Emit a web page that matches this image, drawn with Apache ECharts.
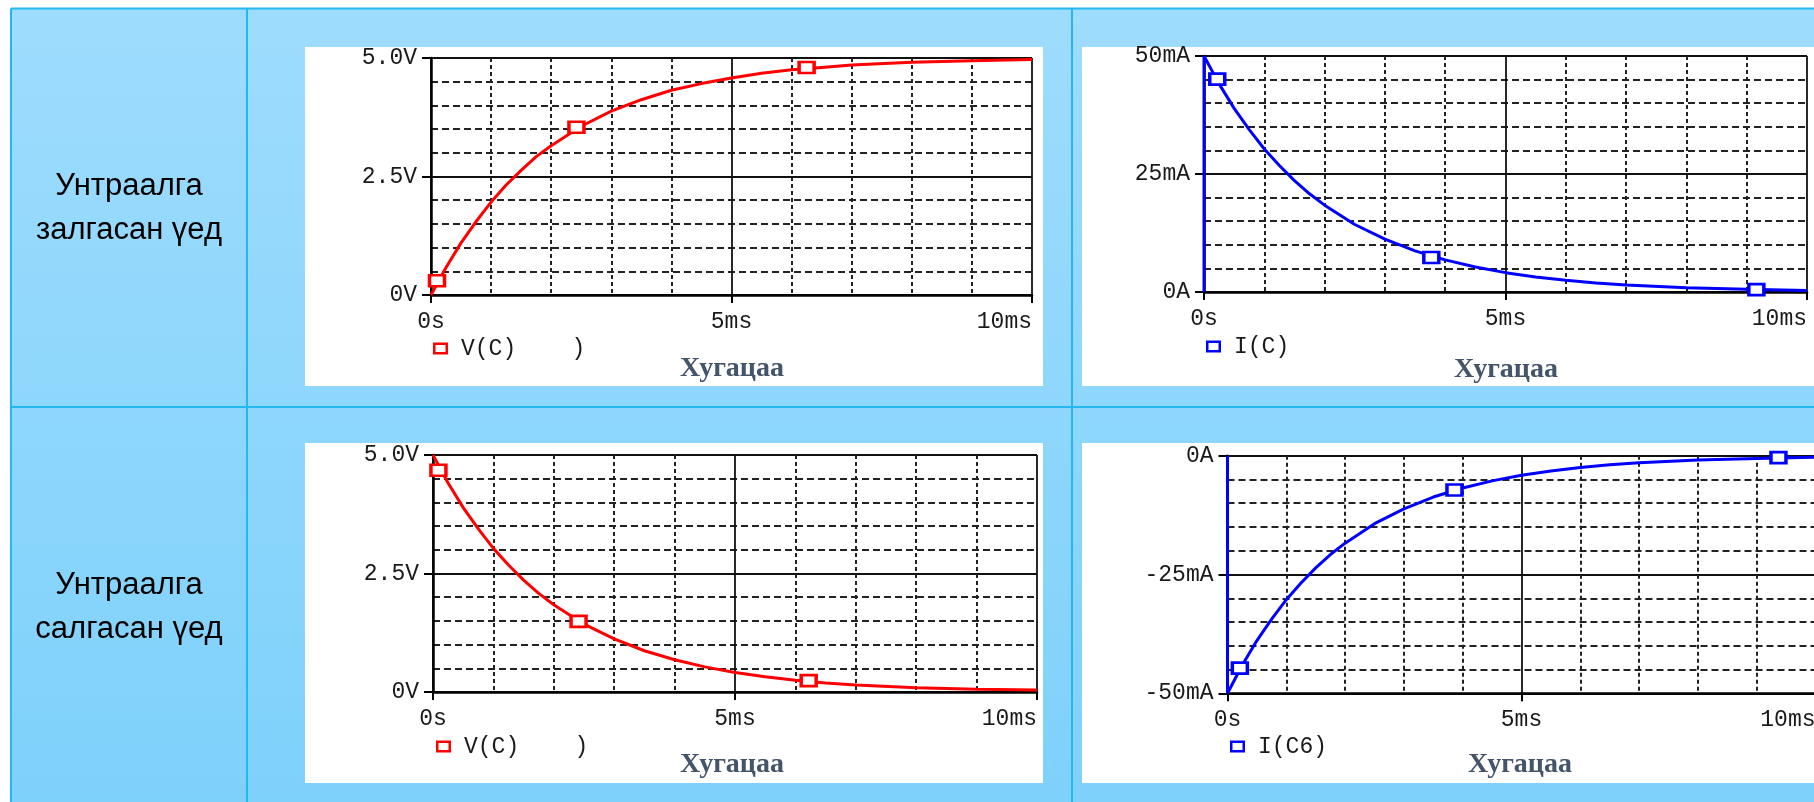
<!DOCTYPE html>
<html>
<head>
<meta charset="utf-8">
<script src="https://cdn.jsdelivr.net/npm/echarts@6/dist/echarts.min.js"></script>
<style>
html,body{margin:0;padding:0;background:#fff;overflow:hidden;}
#c{width:1814px;height:802px;}
</style>
</head>
<body>
<div id="c"></div>
<script>
// ---------- text ----------
const rowLabels = ['Унтраалга\nзалгасан үед', 'Унтраалга\nсалгасан үед'];
const xAxisTitle = 'Хугацаа';
const timeTickLabels = ['0s', '5ms', '10ms'];
const vTickLabels = ['0V', '2.5V', '5.0V'];
const iTickLabels = ['0A', '25mA', '50mA'];
const iNegTickLabels = ['-50mA', '-25mA', '0A'];
const legendTexts = ['V(C)    )', 'I(C)', 'V(C)    )', 'I(C6)'];
const seriesNames = ['V(C) charge', 'I(C) charge', 'V(C) discharge', 'I(C6)'];

// ---------- data (time in ms) ----------
const vTime = [0, 0.25, 0.5, 0.75, 1, 1.25, 1.5, 1.75, 2, 2.5, 3, 3.5, 4, 4.5, 5, 5.5, 6, 6.5, 7, 8, 9, 10];
const chargeVoltage = [0, 0.58, 1.10, 1.55, 1.96, 2.32, 2.63, 2.92, 3.15, 3.56, 3.88, 4.12, 4.32, 4.46, 4.58, 4.68, 4.75, 4.80, 4.85, 4.91, 4.94, 4.97];
const dischargeVoltage = [5.0, 4.41, 3.89, 3.44, 3.03, 2.68, 2.36, 2.08, 1.84, 1.43, 1.12, 0.87, 0.68, 0.53, 0.41, 0.32, 0.25, 0.19, 0.15, 0.09, 0.06, 0.04];

const iTime = [0, 0, 0.25, 0.5, 0.75, 1, 1.25, 1.5, 1.75, 2, 2.5, 3, 3.5, 4, 4.5, 5, 5.5, 6, 6.5, 7, 8, 9, 10];
const chargeCurrent = [0, 50, 44.1, 38.9, 34.4, 30.3, 26.8, 23.6, 20.8, 18.4, 14.3, 11.2, 8.7, 6.8, 5.3, 4.1, 3.2, 2.5, 1.9, 1.5, 0.9, 0.6, 0.3];
const dischargeCurrent = [0, -50, -44.1, -38.9, -34.4, -30.3, -26.8, -23.6, -20.8, -18.4, -14.3, -11.2, -8.7, -6.8, -5.3, -4.1, -3.2, -2.5, -1.9, -1.5, -0.9, -0.6, -0.3];

// marker squares [time ms, value]
const chargeVoltageMarkers = [[0.10, 0.30], [2.42, 3.54], [6.25, 4.80]];
const chargeCurrentMarkers = [[0.22, 45.1], [3.77, 7.3], [9.16, 0.5]];
const dischargeVoltageMarkers = [[0.09, 4.68], [2.41, 1.49], [6.22, 0.24]];
const dischargeCurrentMarkers = [[0.21, -44.7], [3.86, -7.2], [9.37, -0.4]];

// ---------- layout / style ----------
const RED = '#ff0000', BLUE = '#0000ff';
const MONO = "'Liberation Mono', 'DejaVu Sans Mono', monospace";
const zip = (xs, ys) => xs.map((x, i) => [x, ys[i]]);

const panels = [
  { grid: {left: 431, top: 58, width: 601, height: 237},
    yMin: 0, yMax: 5, yInt: 2.5, yLabels: vTickLabels, color: RED,
    data: zip(vTime, chargeVoltage), markers: chargeVoltageMarkers,
    legend: {left: 433, top: 337}, title: [732, 369] },
  { grid: {left: 1204, top: 56, width: 603, height: 236},
    yMin: 0, yMax: 50, yInt: 25, yLabels: iTickLabels, color: BLUE,
    data: zip(iTime, chargeCurrent), markers: chargeCurrentMarkers,
    legend: {left: 1206, top: 335}, title: [1506, 370] },
  { grid: {left: 433, top: 455, width: 604, height: 237},
    yMin: 0, yMax: 5, yInt: 2.5, yLabels: vTickLabels, color: RED,
    data: zip(vTime, dischargeVoltage), markers: dischargeVoltageMarkers,
    legend: {left: 436, top: 735}, title: [732, 765] },
  { grid: {left: 1227.5, top: 455.7, width: 588, height: 237.6},
    yMin: -50, yMax: 0, yInt: 25, yLabels: iNegTickLabels, color: BLUE,
    data: zip(iTime, dischargeCurrent), markers: dischargeCurrentMarkers,
    legend: {left: 1230, top: 735}, title: [1520, 765] }
];

const grids = [], xAxes = [], yAxes = [], series = [], legends = [];
panels.forEach((p, i) => {
  grids.push(Object.assign({containLabel: false, outerBoundsMode: 'none'}, p.grid));
  xAxes.push({
    type: 'value', gridIndex: i, min: 0, max: 10, interval: 5,
    axisLine: {show: true, onZero: false, lineStyle: {color: '#000', width: 2.5}},
    axisTick: {show: true, inside: false, length: 8, lineStyle: {color: '#000', width: 2}},
    axisLabel: {margin: 15, fontFamily: MONO, fontSize: 23, color: '#1a1a1a',
      alignMaxLabel: 'right', showMinLabel: true, showMaxLabel: true,
      formatter: v => timeTickLabels[Math.round(v / 5)]},
    splitLine: {show: true, lineStyle: {color: '#111', width: 1.8}},
    minorTick: {show: false, splitNumber: 5},
    minorSplitLine: {show: true, lineStyle: {color: '#222', width: 2, type: [4, 3]}}
  });
  yAxes.push({
    type: 'value', gridIndex: i, min: p.yMin, max: p.yMax, interval: p.yInt,
    axisLine: {show: true, onZero: false, lineStyle: {color: '#000', width: 2.5}},
    axisTick: {show: true, inside: false, length: 9, lineStyle: {color: '#000', width: 2}},
    axisLabel: {margin: 14, fontFamily: MONO, fontSize: 23, color: '#1a1a1a',
      showMinLabel: true, showMaxLabel: true,
      formatter: v => p.yLabels[Math.round((v - p.yMin) / p.yInt)]},
    splitLine: {show: true, lineStyle: {color: '#111', width: 1.8}},
    minorTick: {show: false, splitNumber: 5},
    minorSplitLine: {show: true, lineStyle: {color: '#222', width: 2, type: [7, 4]}}
  });
  series.push({
    type: 'line', name: seriesNames[i], xAxisIndex: i, yAxisIndex: i,
    data: p.data, showSymbol: false, symbol: 'none', smooth: false,
    color: p.color, lineStyle: {color: p.color, width: 3}, itemStyle: {color: p.color},
    z: 3, animation: false, silent: true
  });
  series.push({
    type: 'scatter', xAxisIndex: i, yAxisIndex: i, data: p.markers,
    symbol: 'rect', symbolSize: [15, 11],
    itemStyle: {color: '#fff', borderColor: p.color, borderWidth: 3, opacity: 1},
    z: 4, animation: false, silent: true
  });
  legends.push({
    left: p.legend.left, top: p.legend.top, padding: 0, orient: 'horizontal',
    selectedMode: false, itemWidth: 15, itemHeight: 12,
    data: [{name: seriesNames[i], icon: 'path://M0,0H15V12H0Z M2.5,2.5V9.5H12.5V2.5Z'}],
    formatter: () => legendTexts[i],
    textStyle: {fontFamily: MONO, fontSize: 23, color: '#1a1a1a', padding: [0, 0, 0, 8]}
  });
});

// ---------- table chrome ----------
const BORDER = '#25B8EF';
const graphics = [
  {type: 'rect', z: -20, silent: true, shape: {x: 11, y: 8.5, width: 1810, height: 800},
   style: {fill: new echarts.graphic.LinearGradient(0, 0, 0, 1, [
     {offset: 0, color: '#9EDCFD'}, {offset: 1, color: '#7ED1FB'}])}},
  // white picture panels
  {type: 'rect', z: -15, silent: true, shape: {x: 305, y: 47, width: 738, height: 339}, style: {fill: '#fff'}},
  {type: 'rect', z: -15, silent: true, shape: {x: 1082, y: 47, width: 740, height: 339}, style: {fill: '#fff'}},
  {type: 'rect', z: -15, silent: true, shape: {x: 305, y: 443, width: 738, height: 340}, style: {fill: '#fff'}},
  {type: 'rect', z: -15, silent: true, shape: {x: 1082, y: 443, width: 740, height: 340}, style: {fill: '#fff'}},
  // borders
  {type: 'line', z: -10, silent: true, shape: {x1: 11, y1: 8.5, x2: 1814, y2: 8.5}, style: {stroke: BORDER, lineWidth: 2}},
  {type: 'line', z: -10, silent: true, shape: {x1: 11, y1: 8.5, x2: 11, y2: 802}, style: {stroke: BORDER, lineWidth: 2}},
  {type: 'line', z: -10, silent: true, shape: {x1: 247, y1: 8.5, x2: 247, y2: 802}, style: {stroke: BORDER, lineWidth: 2}},
  {type: 'line', z: -10, silent: true, shape: {x1: 1072, y1: 8.5, x2: 1072, y2: 802}, style: {stroke: BORDER, lineWidth: 2}},
  {type: 'line', z: -10, silent: true, shape: {x1: 11, y1: 407, x2: 1814, y2: 407}, style: {stroke: BORDER, lineWidth: 2}},
  // row labels
  {type: 'text', z: 10, silent: true, x: 129, y: 208,
   style: {text: rowLabels[0], fill: '#000', fontFamily: "'Liberation Sans', Arial, sans-serif", fontSize: 31,
     lineHeight: 44, align: 'center', verticalAlign: 'middle'}},
  {type: 'text', z: 10, silent: true, x: 129, y: 607,
   style: {text: rowLabels[1], fill: '#000', fontFamily: "'Liberation Sans', Arial, sans-serif", fontSize: 31,
     lineHeight: 44, align: 'center', verticalAlign: 'middle'}}
];
panels.forEach(p => {
  graphics.push({type: 'text', z: 10, silent: true, x: p.title[0], y: p.title[1],
    style: {text: xAxisTitle, fill: '#44546A', fontFamily: "'Liberation Serif', 'Times New Roman', serif",
      fontWeight: 'bold', fontSize: 28, align: 'center', verticalAlign: 'middle'}});
});

const chart = echarts.init(document.getElementById('c'), null, {renderer: 'canvas', width: 1814, height: 802});
chart.setOption({
  backgroundColor: '#ffffff',
  animation: false,
  grid: grids,
  xAxis: xAxes,
  yAxis: yAxes,
  legend: legends,
  series: series,
  graphic: {elements: graphics}
});
</script>
</body>
</html>
